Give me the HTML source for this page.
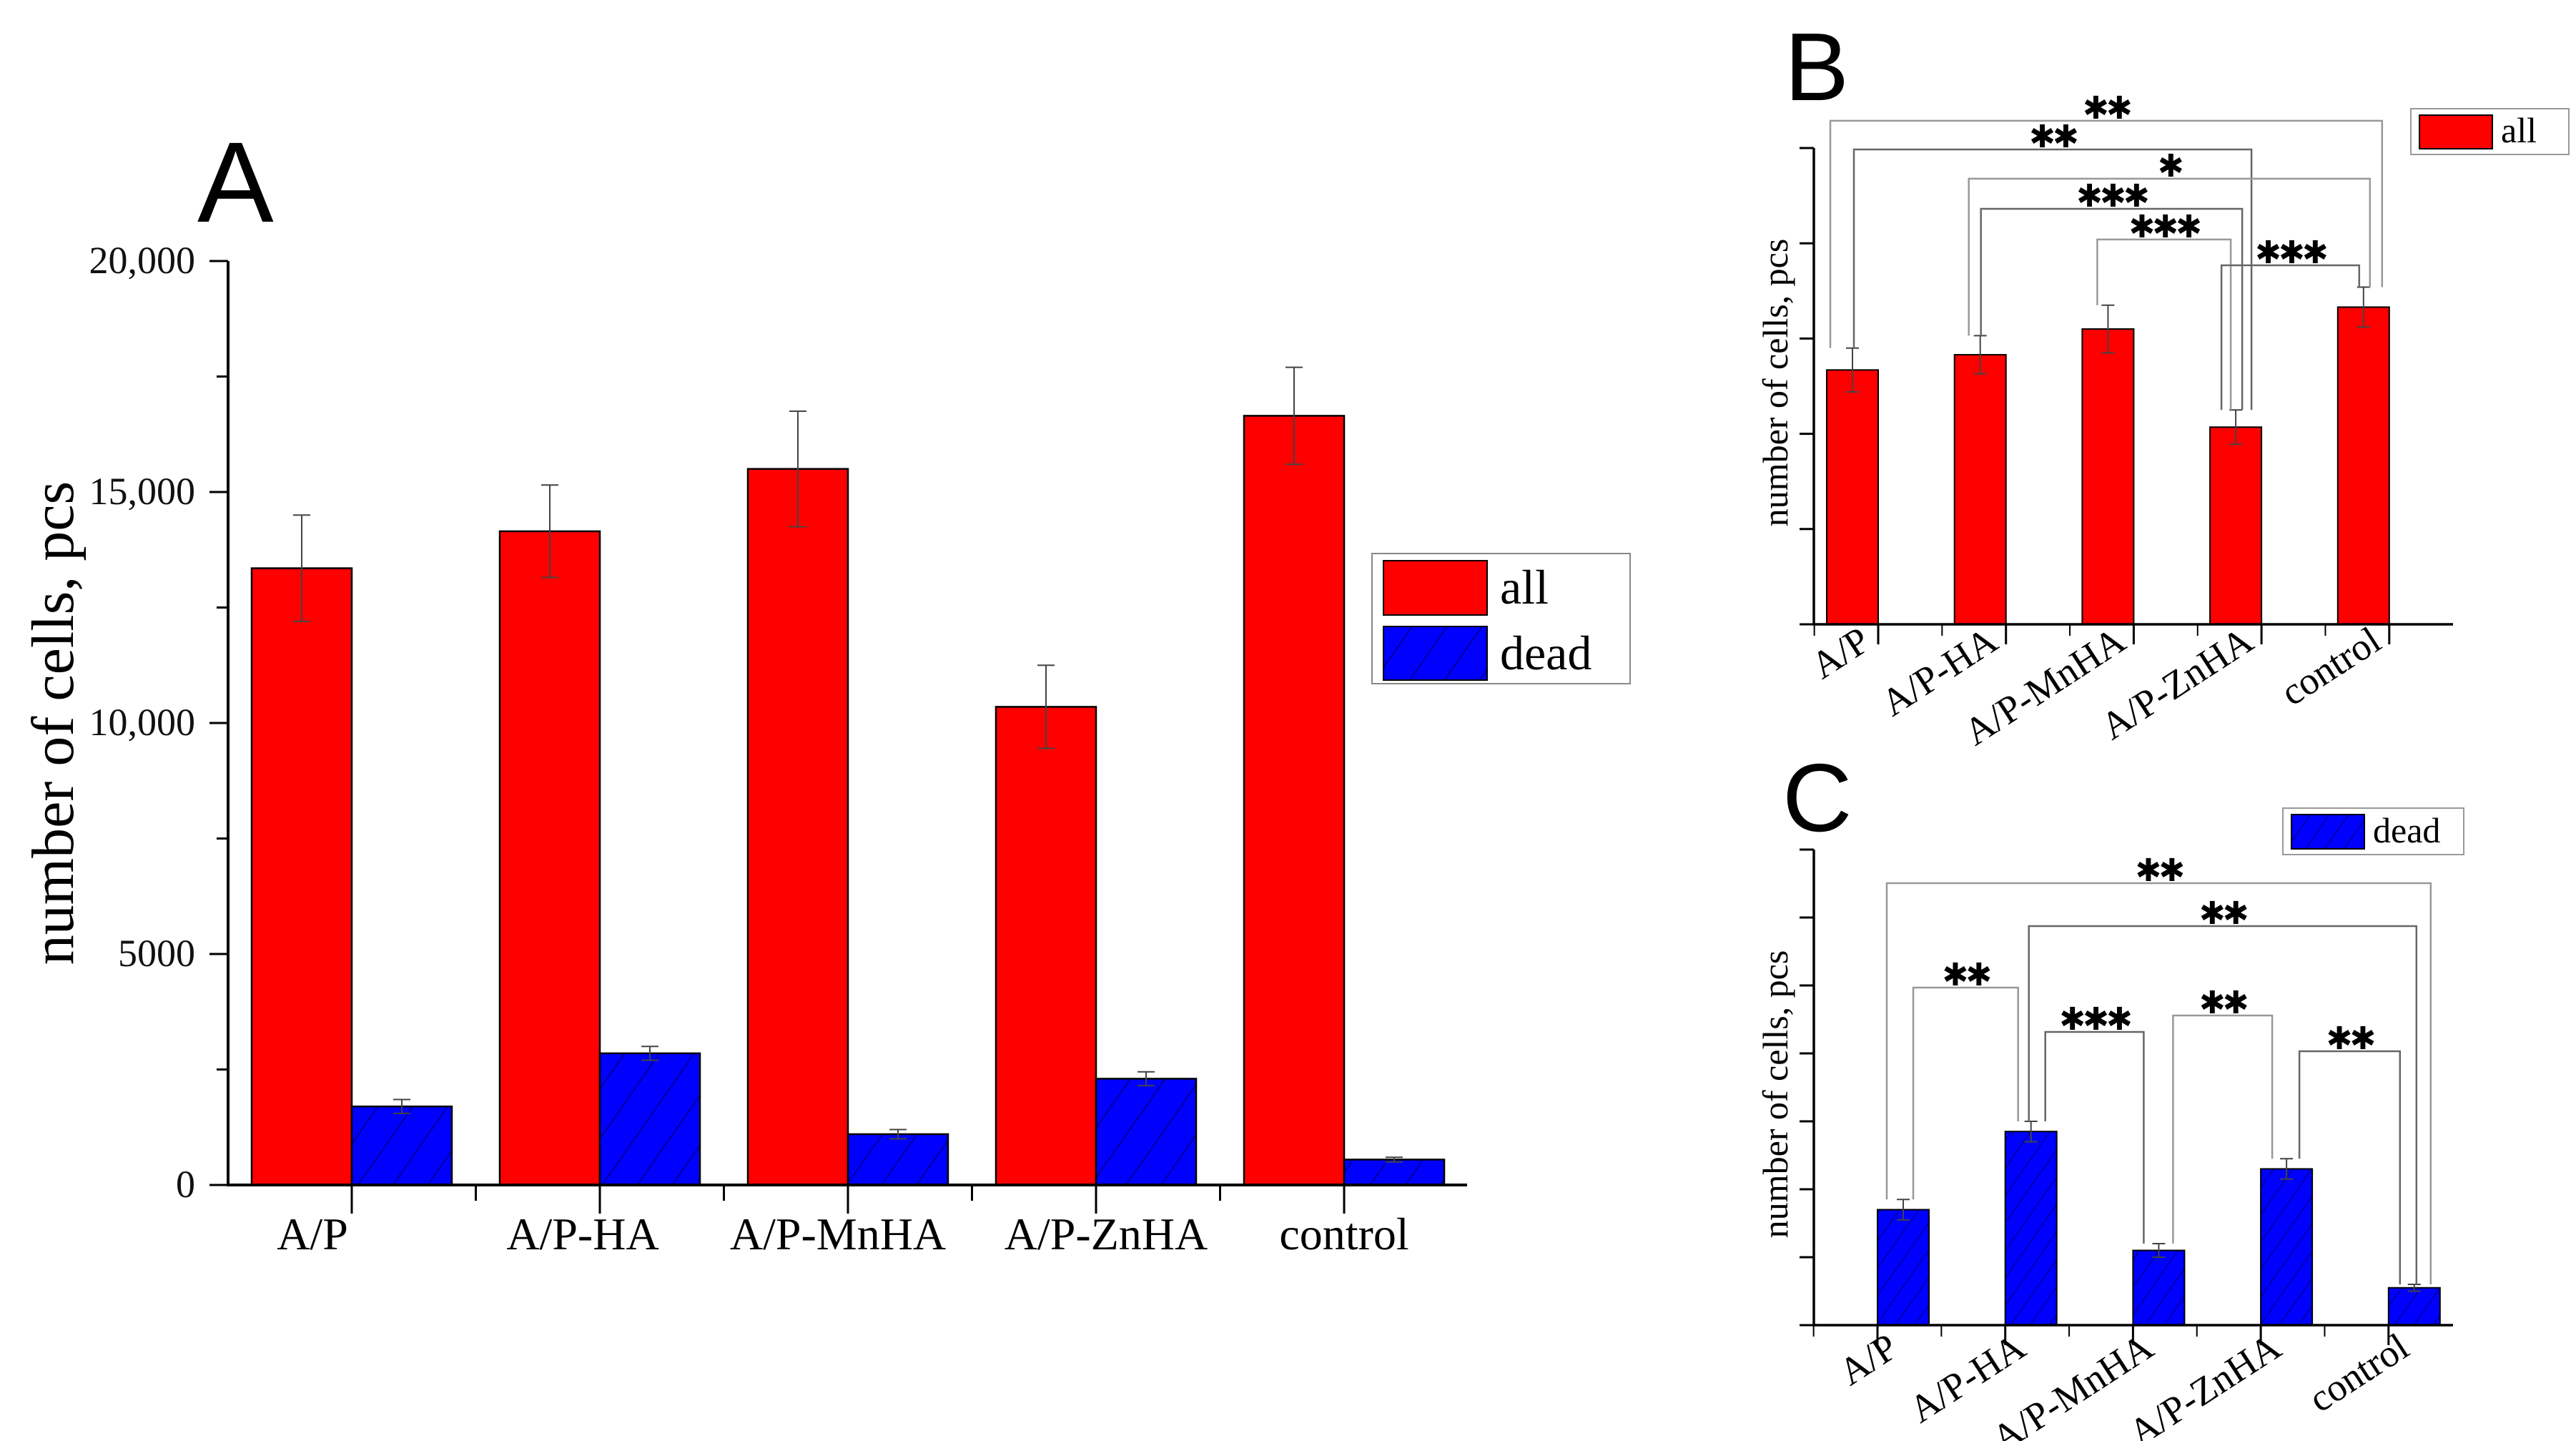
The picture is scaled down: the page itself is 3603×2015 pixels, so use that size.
<!DOCTYPE html>
<html><head><meta charset="utf-8">
<style>
html,body{margin:0;padding:0;background:#fff;}
svg{display:block;}
.serif{font-family:"Liberation Serif",serif;}
.sans{font-family:"Liberation Sans","DejaVu Sans",sans-serif;}
.star{font-family:"DejaVu Sans",sans-serif;letter-spacing:-4px;}
</style></head>
<body>
<svg id="fig" width="3603" height="2015" viewBox="0 0 3603 2015" xmlns="http://www.w3.org/2000/svg">
<defs>
<pattern id="hatch" patternUnits="userSpaceOnUse" width="40" height="40" patternTransform="rotate(35)">
<rect width="40" height="40" fill="#0000ff"/>
<line x1="0" y1="0" x2="0" y2="40" stroke="#000040" stroke-width="2"/>
</pattern>
<pattern id="hatchS" patternUnits="userSpaceOnUse" width="22" height="22" patternTransform="rotate(35)">
<rect width="22" height="22" fill="#0000ff"/>
<line x1="0" y1="0" x2="0" y2="22" stroke="#000040" stroke-width="1.6"/>
</pattern>
</defs>
<g id="panelA"></g>
<g id="panelB"></g>
<g id="panelC"></g>
</svg>
<script>
const categories = ["A/P","A/P-HA","A/P-MnHA","A/P-ZnHA","control"];
const allValues = [13350,14150,15500,10350,16650];
const allErrors = [1150,1000,1250,900,1050];
const deadValues = [1700,2850,1100,2300,550];
const deadErrors = [150,150,100,150,50];
const ticksA = [0,5000,10000,15000,20000];
const tickLabelsA = ["0","5000","10,000","15,000","20,000"];
const ticksB = [0,5000,10000,15000,20000,25000];
const ticksC = [0,1000,2000,3000,4000,5000,6000,7000];
// significance brackets: [from index, to index, height value, label]
const bracketsB = [[0,4,26430,"✱✱"],[0,3,24925,"✱✱"],[1,4,23390,"✱"],[1,3,21810,"✱✱✱"],[2,3,20200,"✱✱✱"],[3,4,18845,"✱✱✱"]];
const bracketsC = [[0,4,6505,"✱✱"],[1,4,5874,"✱✱"],[0,1,4968,"✱✱"],[1,2,4316,"✱✱✱"],[2,3,4558,"✱✱"],[3,4,4032,"✱✱"]];

const NS="http://www.w3.org/2000/svg";
function mk(parent,tag,attrs,text){const e=document.createElementNS(NS,tag);for(const k in attrs)e.setAttribute(k,attrs[k]);if(text!==undefined)e.textContent=text;parent.appendChild(e);return e;}

/* ---------- Panel A ---------- */
(function(){
const g=document.getElementById('panelA');
const x0=319, xEnd=2052, y0=1657, yTop=365, vmax=20000;
const ys=v=>y0-(v/vmax)*(y0-yTop);
const cx=i=>492+i*347;
const bw=140;
let t=mk(g,'text',{x:276,y:310,'font-size':160,class:'sans'},'A');


for(let v=2500;v<vmax;v+=5000){let l=mk(g,'line',{x1:x0-16,x2:x0,y1:ys(v),y2:ys(v),stroke:'#000','stroke-width':3});

}
ticksA.forEach((v,i)=>{
 let l=mk(g,'line',{x1:x0-26,x2:x0,y1:ys(v),y2:ys(v),stroke:'#000','stroke-width':3});
 
 
 let tx=mk(g,'text',{x:273,y:ys(v)+17,'font-size':54,'text-anchor':'end',class:'serif',fill:'#111'},tickLabelsA[i]);
 
 
});
let yl=mk(g,'text',{x:0,y:0,'font-size':84,'text-anchor':'middle',class:'serif',transform:'translate(102,1011) rotate(-90)'},'number of cells, pcs');


const lblOfs=[-55,-24,-14,14,0];
categories.forEach((c,i)=>{
 const xc=cx(i);
 let r=mk(g,'rect',{x:xc-bw,y:ys(allValues[i]),width:bw,height:y0-ys(allValues[i]),fill:'#ff0000',stroke:'#000','stroke-width':2.5});
 
 
 let d=mk(g,'rect',{x:xc,y:ys(deadValues[i]),width:bw,height:y0-ys(deadValues[i]),fill:'url(#hatch)',stroke:'#000','stroke-width':2.5});
 
 
 [[xc-bw/2,allValues[i],allErrors[i]],[xc+bw/2,deadValues[i],deadErrors[i]]].forEach(([ex,v,e])=>{
  let eb=mk(g,'path',{d:`M${ex},${ys(v+e)}V${ys(v-e)}M${ex-12},${ys(v+e)}H${ex+12}M${ex-12},${ys(v-e)}H${ex+12}`,stroke:'#444','stroke-width':2,fill:'none'});
  
  
 });
 let tk=mk(g,'line',{x1:xc,x2:xc,y1:y0,y2:y0+40,stroke:'#000','stroke-width':3});
 
 
 let tl=mk(g,'text',{x:xc+lblOfs[i],y:1747,'font-size':64,'text-anchor':'middle',class:'serif'},c);
 
 
});
for(let i=0;i<=5;i++){const mx=cx(0)-173.5+i*347; if(mx<x0+5||mx>xEnd)continue;
 let m=mk(g,'line',{x1:mx,x2:mx,y1:y0,y2:y0+22,stroke:'#000','stroke-width':3});
 
 }
let ax=mk(g,'path',{d:`M${x0},${yTop}V${y0}H${xEnd}`,stroke:'#000','stroke-width':4,fill:'none'});


const lg=mk(g,'g',{});


mk(lg,'rect',{x:1919,y:774,width:361,height:182,fill:'#fff',stroke:'#888','stroke-width':2});
let s1=mk(lg,'rect',{x:1935,y:784,width:145,height:76,fill:'#ff0000',stroke:'#000','stroke-width':2});


let s2=mk(lg,'rect',{x:1935,y:876,width:145,height:75,fill:'url(#hatch)',stroke:'#000','stroke-width':2});


let l1=mk(lg,'text',{x:2098,y:844,'font-size':68,class:'serif'},'all');


let l2=mk(lg,'text',{x:2098,y:936,'font-size':68,class:'serif'},'dead');


})();

/* ---------- small panels ---------- */
function smallPanel(gid,opt){
const g=document.getElementById(gid);
const {x0,xEnd,y0,yTop,vmax,ticks,vals,errs,fill,brackets,tickSide}=opt;
const ys=v=>y0-(v/vmax)*(y0-yTop);
const cx=i=>opt.c0+i*178.7;
const bw=72;
let t=mk(g,'text',{x:opt.lx,y:opt.ly,'font-size':135,class:'sans'},opt.letter);


ticks.forEach(v=>{let l=mk(g,'line',{x1:x0-20,x2:x0,y1:ys(v),y2:ys(v),stroke:'#000','stroke-width':3});
 
 });
let yl=mk(g,'text',{x:0,y:0,'font-size':50,'text-anchor':'middle',class:'serif',transform:`translate(${opt.ylx},${opt.yly}) rotate(-90)`},'number of cells, pcs');


vals.forEach((v,i)=>{
 const xc=cx(i);
 let r=mk(g,'rect',{x:xc-bw/2,y:ys(v),width:bw,height:y0-ys(v),fill:fill,stroke:'#000','stroke-width':2});
 
 
 const e=errs[i];
 let eb=mk(g,'path',{d:`M${xc},${ys(v+e)}V${ys(v-e)}M${xc-9},${ys(v+e)}H${xc+9}M${xc-9},${ys(v-e)}H${xc+9}`,stroke:'#444','stroke-width':2,fill:'none'});
 
 
 const tx=xc+tickSide*bw/2;
 let tk=mk(g,'line',{x1:tx,x2:tx,y1:y0,y2:y0+28,stroke:'#000','stroke-width':3});
 
 
 let mt=mk(g,'line',{x1:tx-89.35,x2:tx-89.35,y1:y0,y2:y0+16,stroke:'#000','stroke-width':2});
 
 
 const ax_=xc+opt.lblDx, ay_=y0+opt.lblDy;
 let tl=mk(g,'text',{x:0,y:0,'font-size':54,'text-anchor':'end',class:'serif',transform:`translate(${ax_},${ay_}) rotate(-33)`},categories[i]);
 
 
});
brackets.forEach((b,k)=>{
 const [i,j,h,lab]=b;
 const xa=cx(i)+opt.bOfs[k][0], xb=cx(j)+opt.bOfs[k][1];
 const ya=ys(vals[i]+errs[i]), yb=ys(vals[j]+errs[j]), yh=ys(h);
 let p=mk(g,'path',{d:`M${xa},${ya}V${yh}H${xb}V${yb}`,stroke:k%2?'#666':'#999','stroke-width':2.5,fill:'none'});
 
 
 let s=mk(g,'text',{x:(xa+xb)/2,y:yh-3,'font-size':44,'text-anchor':'middle',class:'star'},lab);
 
 
});
let ax=mk(g,'path',{d:`M${x0},${yTop}V${y0}H${xEnd}`,stroke:'#000','stroke-width':3.5,fill:'none'});


const L=opt.legend;
const lg=mk(g,'g',{});


mk(lg,'rect',{x:L[0],y:L[1],width:L[2],height:L[3],fill:'#fff',stroke:'#999','stroke-width':2});
let sw=mk(lg,'rect',{x:L[0]+12,y:L[1]+9,width:102,height:L[3]-17,fill:opt.swFill,stroke:'#000','stroke-width':2});


let lt=mk(lg,'text',{x:L[0]+126,y:L[1]+L[3]-17,'font-size':50,class:'serif'},opt.legendText);


}
smallPanel('panelB',{letter:'B',lx:2496,ly:140,x0:2537,xEnd:3431,y0:873,yTop:207,vmax:25000,ticks:ticksB,vals:allValues,errs:allErrors,fill:'#ff0000',swFill:'#ff0000',c0:2591,tickSide:1,
 brackets:bracketsB,bOfs:[[-31,26],[2,22],[-16,9],[1,9],[-15,-7],[-20,-6]],
 ylx:2500,yly:535,lblDx:28,lblDy:32,legend:[3372,152,221,64],legendText:'all'});
smallPanel('panelC',{letter:'C',lx:2493,ly:1162,x0:2537,xEnd:3431,y0:1853,yTop:1188,vmax:7000,ticks:ticksC,vals:deadValues,errs:deadErrors,fill:'url(#hatchS)',swFill:'url(#hatchS)',c0:2662,tickSide:-1,
 brackets:bracketsC,bOfs:[[-23,23],[-3,3],[14,-18],[20,-21],[20,-20],[18,-20]],
 ylx:2500,yly:1530,lblDx:-4,lblDy:40,legend:[3193,1130,253,65],legendText:'dead'});
</script>
</body></html>
